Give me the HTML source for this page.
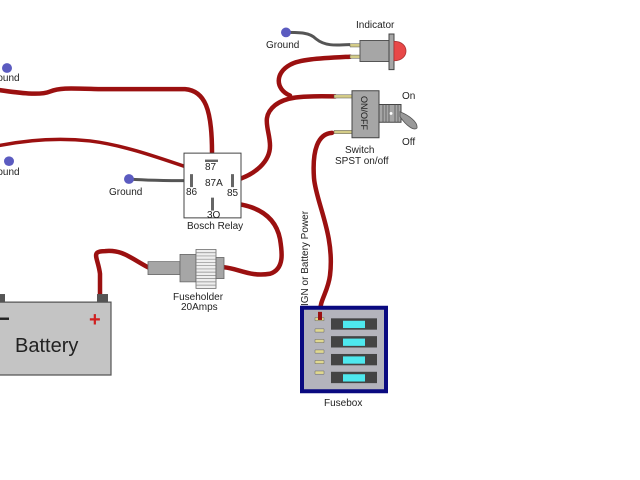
<!DOCTYPE html>
<html><head><meta charset="utf-8"><style>
html,body{margin:0;padding:0;background:#fff;width:640px;height:480px;overflow:hidden}
svg{display:block}
text{font-family:"Liberation Sans",sans-serif;fill:#222}
.g *{vector-effect:non-scaling-stroke}
</style></head><body>
<svg width="640" height="480" viewBox="0 0 640 480" xmlns="http://www.w3.org/2000/svg">
<g class="g" transform="scale(1,0.81)">
<g fill="none" stroke="#9b1010" stroke-width="4.5" stroke-linecap="round" stroke-linejoin="round">
  <path d="M-2,111 C20,115 40,118 50,113 C60,108 70,109 100,110 L185,110 C205,112 212,135 212,188"/>
  <path d="M-2,180 C30,172 60,170 90,174 C130,180 170,200 215,218" stroke-width="3.5"/>
  <path d="M100,366 L100,338 C98,318 90,310 105,310 C122,308 130,318 148,330"/>
  <path d="M224,330 C240,332 250,342 270,338 C285,332 282,310 280,295 C276,270 260,250 218,250"/>
  <path d="M237,222 C255,215 270,200 270,180 C270,160 260,145 275,130 C285,120 300,118 335,119"/>
  <path d="M290,118 C275,110 275,90 290,80 C300,73 320,72 350,70"/>
  <path d="M332,164 C318,165 312,185 314,220 C316,250 335,290 330,340 C328,360 320,370 320,385"/>
</g>
<g fill="none" stroke="#555" stroke-width="3">
  <path d="M129,221 C140,222 150,223 190,223"/>
  <path d="M286,40 C300,40 310,40 316,48 C325,57 335,56 350,55"/>
</g>
<g fill="#5b5bc0">
  <ellipse cx="7" cy="84" rx="5" ry="6"/><ellipse cx="9" cy="199" rx="5" ry="6"/>
  <ellipse cx="129" cy="221" rx="5" ry="6"/><ellipse cx="286" cy="40" rx="5" ry="6"/>
</g>
<rect x="184" y="189" width="57" height="80" fill="#fff" stroke="#444" stroke-width="1"/>
<rect x="205" y="197" width="13" height="3" fill="#666"/>
<rect x="190" y="215" width="3" height="16" fill="#666"/>
<rect x="231" y="215" width="3" height="16" fill="#666"/>
<rect x="211" y="244" width="3" height="16" fill="#666"/>
<rect x="350" y="54" width="12" height="4" fill="#d4cc88" stroke="#555" stroke-width=".5"/>
<rect x="350" y="68" width="12" height="4" fill="#d4cc88" stroke="#555" stroke-width=".5"/>
<rect x="360" y="50" width="30" height="26" fill="#a6a6a6" stroke="#555" stroke-width="1"/>
<rect x="389" y="42" width="5" height="44" fill="#a6a6a6" stroke="#444" stroke-width="1"/>
<path d="M394,51 C410,51 410,75 394,75 Z" fill="#e84848" stroke="#a33" stroke-width=".8"/>
<rect x="334" y="117" width="18" height="4" fill="#d4cc88" stroke="#555" stroke-width=".5"/>
<rect x="334" y="161" width="18" height="4" fill="#d4cc88" stroke="#555" stroke-width=".5"/>
<rect x="352" y="112" width="27" height="58" fill="#a6a6a6" stroke="#444" stroke-width="1"/>
<rect x="379" y="129" width="22" height="22" fill="#a6a6a6" stroke="#444" stroke-width="1"/>
<g stroke="#555" stroke-width=".8"><line x1="383" y1="129" x2="383" y2="151"/><line x1="386" y1="129" x2="386" y2="151"/><line x1="389" y1="129" x2="389" y2="151"/><line x1="395" y1="129" x2="395" y2="151"/><line x1="398" y1="129" x2="398" y2="151"/></g>
<ellipse cx="391" cy="140" rx="1.5" ry="1.8" fill="#fff"/>
<path d="M400,138 C408,142 418,150 417,158 C414,162 406,155 400,144 Z" fill="#999" stroke="#555" stroke-width=".8"/>
<rect x="148" y="323" width="32" height="16" fill="#a6a6a6" stroke="#666" stroke-width=".8"/>
<rect x="180" y="314" width="16" height="34" fill="#a6a6a6" stroke="#666" stroke-width=".8"/>
<rect x="196" y="308" width="20" height="48" fill="#eee" stroke="#666" stroke-width=".8"/>
<g stroke="#888" stroke-width=".7">
<line x1="196" y1="312" x2="216" y2="312"/><line x1="196" y1="316" x2="216" y2="316"/><line x1="196" y1="320" x2="216" y2="320"/><line x1="196" y1="324" x2="216" y2="324"/><line x1="196" y1="328" x2="216" y2="328"/><line x1="196" y1="332" x2="216" y2="332"/><line x1="196" y1="336" x2="216" y2="336"/><line x1="196" y1="340" x2="216" y2="340"/><line x1="196" y1="344" x2="216" y2="344"/><line x1="196" y1="348" x2="216" y2="348"/><line x1="196" y1="352" x2="216" y2="352"/></g>
<rect x="216" y="318" width="8" height="26" fill="#a6a6a6" stroke="#666" stroke-width=".8"/>
<rect x="-3" y="373" width="114" height="90" fill="#c4c4c4" stroke="#555" stroke-width="1.2"/>
<rect x="97" y="363" width="11" height="10" fill="#555"/>
<rect x="-3" y="363" width="8" height="10" fill="#555"/>
<rect x="0" y="392" width="9" height="3" fill="#222"/>
<rect x="302" y="380" width="84" height="103" fill="#b4b4bc" stroke="#0a0a80" stroke-width="4"/>
<g fill="#e0d890" stroke="#666" stroke-width=".5">
<rect x="315" y="392" width="9" height="4"/><rect x="315" y="406" width="9" height="4"/><rect x="315" y="419" width="9" height="4"/><rect x="315" y="432" width="9" height="4"/><rect x="315" y="445" width="9" height="4"/><rect x="315" y="458" width="9" height="4"/></g>
<rect x="331" y="393" width="46" height="14" fill="#444"/><rect x="343" y="396" width="22" height="9" fill="#4ee8ee"/>
<rect x="331" y="415" width="46" height="14" fill="#444"/><rect x="343" y="418" width="22" height="9" fill="#4ee8ee"/>
<rect x="331" y="437" width="46" height="14" fill="#444"/><rect x="343" y="440" width="22" height="9" fill="#4ee8ee"/>
<rect x="331" y="459" width="46" height="14" fill="#444"/><rect x="343" y="462" width="22" height="9" fill="#4ee8ee"/>
<path d="M320,385 L320,395" stroke="#9b1010" stroke-width="4"/>
</g>

<text x="-6" y="81" font-size="10">round</text>
<text x="-6" y="175" font-size="10">round</text>
<text x="109" y="195" font-size="10">Ground</text>
<text x="266" y="48" font-size="10">Ground</text>
<g font-size="10">
<text x="205" y="170">87</text>
<text x="205" y="186">87A</text>
<text x="186" y="195">86</text>
<text x="227" y="196">85</text>
<text x="207" y="218">3O</text>
<text x="187" y="229">Bosch Relay</text>
</g>
<text x="356" y="28" font-size="10">Indicator</text>
<text transform="translate(361,96) rotate(90)" font-size="9">ON/OFF</text>
<text x="402" y="99" font-size="10">On</text>
<text x="402" y="145" font-size="10">Off</text>
<text x="345" y="153" font-size="10">Switch</text>
<text x="335" y="164" font-size="10">SPST on/off</text>
<text x="173" y="300" font-size="10">Fuseholder</text>
<text x="181" y="310" font-size="10">20Amps</text>
<text x="89" y="326" font-size="20" style="fill:#d02020;font-weight:bold">+</text>
<text x="15" y="352" font-size="20">Battery</text>
<text transform="translate(308,306) rotate(-90)" font-size="10">IGN or Battery Power</text>
<text x="324" y="406" font-size="10">Fusebox</text>
</svg>
</body></html>
